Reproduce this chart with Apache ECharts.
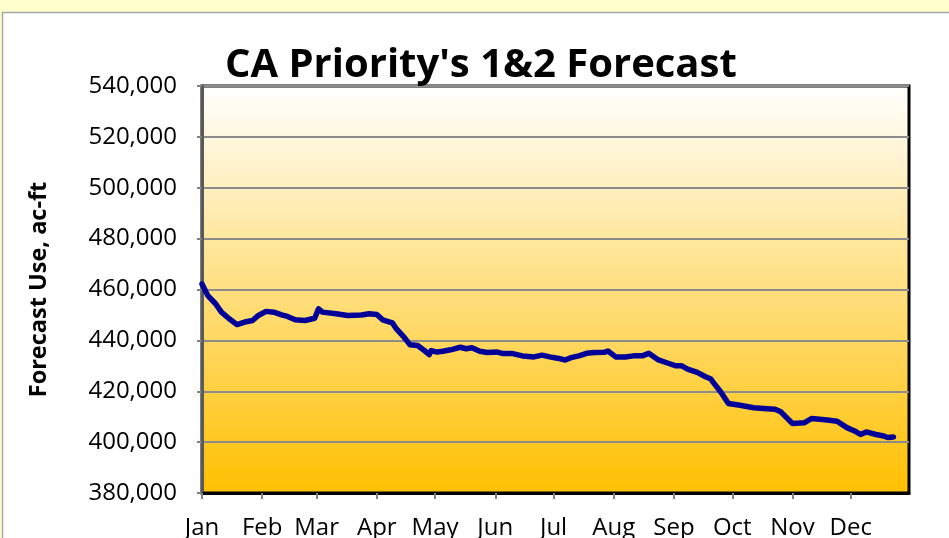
<!DOCTYPE html>
<html>
<head>
<meta charset="utf-8">
<title>CA Priority's 1&amp;2 Forecast</title>
<script src="https://cdn.jsdelivr.net/npm/echarts@6/dist/echarts.min.js"></script>
<style>
    html, body { margin: 0; padding: 0; background: #FFFFCC; }
    #main { width: 949px; height: 538px; }
</style>
</head>
<body>
<div id="main"></div>
<script>
// 月份（刻度位置 = 一年中的第几天）
const monthNames = ['Jan','Feb','Mar','Apr','May','Jun','Jul','Aug','Sep','Oct','Nov','Dec'];
const monthStarts = [0, 31, 59, 90, 120, 151, 181, 212, 243, 273, 304, 334];

// 数据：第几天 / 预测用水量 (ac-ft)
const days = [0, 3, 7, 10, 14, 18, 22, 26, 29, 33, 37, 41, 44, 48, 53, 58, 60, 62, 69, 75, 82, 86, 90,
    93, 98, 100, 104, 107, 111, 115, 117, 118, 121, 124, 128, 129, 133, 136, 139, 143, 147, 152, 155,
    160, 165, 171, 175, 179, 180, 183, 187, 190, 194, 198, 202, 207, 209, 213, 218, 223, 227, 230,
    235, 240, 244, 247, 250, 255, 259, 262, 263, 267, 271, 277, 284, 289, 295, 298, 304, 310, 314,
    318, 323, 327, 332, 336, 339, 342, 347, 351, 353, 356];
const forecastUse = [462200, 457600, 454400, 451100, 448500, 446200, 447200, 447800, 449800, 451400,
    451100, 450000, 449400, 448100, 447800, 448700, 452400, 451100, 450500, 449800, 450000, 450500,
    450200, 448100, 446900, 444600, 441300, 438300, 438000, 435700, 434400, 436000, 435400, 435700,
    436300, 435700, 437300, 436700, 437100, 435700, 435200, 435400, 434800, 434800, 433900, 433500,
    434200, 433500, 434000, 433000, 432300, 433200, 433900, 434900, 435200, 435300, 435800, 433500,
    433500, 434000, 434000, 434900, 432300, 431000, 430000, 430000, 428700, 427400, 425800, 424800,
    423700, 419800, 415200, 414500, 413500, 413200, 412900, 411900, 407300, 407600, 409300, 409000,
    408600, 408200, 405700, 404400, 403000, 404000, 403000, 402400, 401800, 402000];

// y轴刻度
const yMin = 380000, yMax = 540000, yStep = 20000;

let myChart = echarts.init(document.getElementById('main'));
let option = {
    backgroundColor: '#FFFFCC',
    animation: false,
    // 白色图表面板
    graphic: [{
        type: 'rect',
        z: -10,
        shape: { x: 2.5, y: 12.5, width: 1000, height: 600 },
        style: { fill: '#FFFFFF', stroke: '#A6A6A6', lineWidth: 1.5 }
    }],
    title: {
        text: "CA Priority's 1&2 Forecast",
        left: 220,
        top: 41,
        textStyle: { fontFamily: 'Open Sans', fontWeight: 'bold', fontSize: 40, color: '#000' }
    },
    grid: {
        left: 202,
        top: 86,
        right: 40,
        bottom: 45,
        outerBoundsMode: 'none',
        show: true,
        borderColor: '#000',
        borderWidth: 3,
        backgroundColor: new echarts.graphic.LinearGradient(0, 0, 0, 1, [
            { offset: 0, color: '#FFFFFF' },
            { offset: 1, color: '#FFC000' }
        ])
    },
    xAxis: {
        type: 'value',
        min: 0,
        max: 364,
        axisLine: { show: true, lineStyle: { color: '#000', width: 3 } },
        axisTick: { show: true, customValues: monthStarts, length: 6, lineStyle: { color: '#808080', width: 2 } },
        axisLabel: {
            customValues: monthStarts,
            margin: 23,
            fontFamily: 'Open Sans',
            fontSize: 24,
            color: '#000',
            formatter: v => monthNames[monthStarts.indexOf(v)]
        },
        splitLine: { show: false }
    },
    yAxis: {
        type: 'value',
        min: yMin,
        max: yMax,
        interval: yStep,
        name: 'Forecast Use, ac-ft',
        nameLocation: 'middle',
        nameGap: 151,
        nameTextStyle: { fontFamily: 'Open Sans', fontWeight: 'bold', fontSize: 23.5, color: '#000' },
        axisLine: { show: true, lineStyle: { color: '#595959', width: 3 } },
        axisTick: { show: true, length: 5, lineStyle: { color: '#808080', width: 2 } },
        axisLabel: {
            margin: 25,
            fontFamily: 'Open Sans',
            fontSize: 24,
            color: '#000',
            formatter: v => v.toLocaleString('en-US')
        },
        splitLine: { lineStyle: { color: '#8C8C8C', width: 2 } }
    },
    series: [{
        type: 'line',
        data: days.map((d, i) => [d, forecastUse[i]]),
        showSymbol: false,
        lineStyle: { color: '#000099', width: 5.5, join: 'round', cap: 'round' },
        itemStyle: { color: '#000099' }
    }]
};
// 绘制图表
myChart.setOption(option);
</script>
</body>
</html>
